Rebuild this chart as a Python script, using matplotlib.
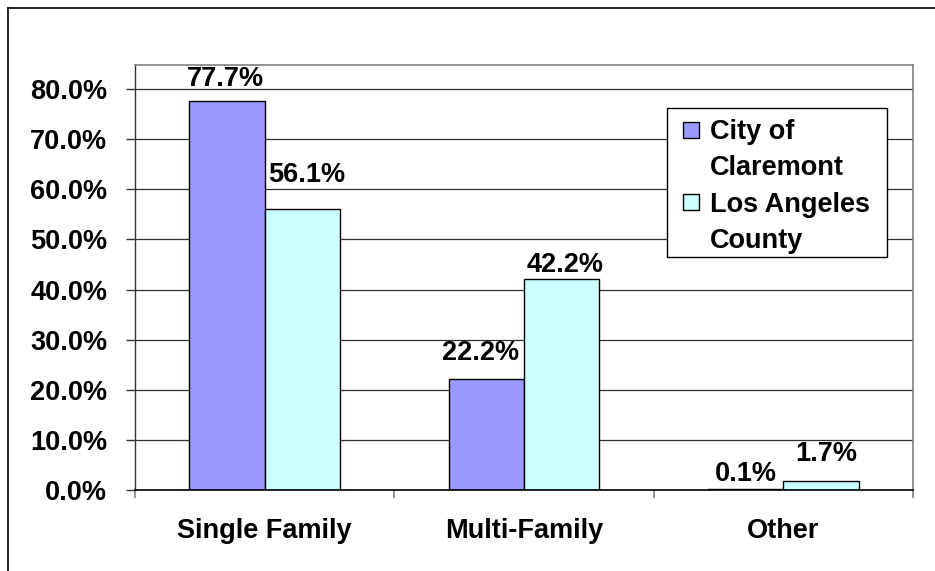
import matplotlib
matplotlib.use("Agg")
import matplotlib.pyplot as plt
from matplotlib.patches import Rectangle
from matplotlib.lines import Line2D
import numpy as np

plt.rcParams['font.family'] = ['Liberation Sans', 'DejaVu Sans']
plt.rcParams['font.weight'] = 'bold'

categories = ["Single Family", "Multi-Family", "Other"]
series_names = ["City of\nClaremont", "Los Angeles\nCounty"]
claremont = [77.7, 22.2, 0.1]
la_county = [56.1, 42.2, 1.7]
y_ticks = [0, 10, 20, 30, 40, 50, 60, 70, 80]

colors = ["#9999FF", "#CCFFFF"]
FS = 19.5

# label nudges in pixels (dx, dy above bar top)
label_offsets = [
    [(-1.5, 15), (4.5, 27)],
    [(-5.5, 19), (4, 7)],
    [(0, 8), (5, 20)],
]

fig = plt.figure(figsize=(9.35, 5.71), dpi=100)
ax = fig.add_axes([135 / 935, 81 / 571, 778 / 935, 425 / 571])

x = np.arange(len(categories))
width = 0.29
series = [claremont, la_county]
for s, vals in enumerate(series):
    pos = x + (s - 0.5) * width
    ax.bar(pos, vals, width=width, color=colors[s], edgecolor="black",
           linewidth=1.0, zorder=3)
    for i, v in enumerate(vals):
        dx, dy = label_offsets[i][s]
        ax.annotate(f"{v:.1f}%", xy=(pos[i], v), xytext=(dx, dy),
                    textcoords="offset pixels", ha="center", va="baseline",
                    fontsize=FS, fontweight="bold", zorder=4)

ax.set_xlim(-0.5, 2.5)
ax.set_ylim(0, 84.8)

ax.set_yticks(y_ticks)
ax.set_yticklabels([f"{t:.1f}%" for t in y_ticks])
ax.tick_params(axis="y", direction="out", length=6.5, width=1, color="#333333",
               pad=13.5, labelsize=FS)

ax.set_xticks(x)
ax.set_xticklabels(categories)
ax.set_xticks([-0.5, 0.5, 1.5, 2.5], minor=True)
ax.tick_params(axis="x", which="major", length=0, pad=20, labelsize=FS)
ax.tick_params(axis="x", which="minor", direction="out", length=6,
               width=1.2, color="#808080")

ax.grid(axis="y", color="#303030", linewidth=0.9, zorder=1)
ax.set_axisbelow(True)

for side in ["top", "right"]:
    ax.spines[side].set_color("#808080")
    ax.spines[side].set_linewidth(1.2)
ax.spines["left"].set_color("#333333")
ax.spines["bottom"].set_color("black")
ax.spines["left"].set_linewidth(1.0)
ax.spines["bottom"].set_linewidth(1.2)
ax.spines["bottom"].set_zorder(5)

# legend box drawn by hand so handles sit on the first text line
ax.add_patch(Rectangle((0.684, 0.548), 0.2826, 0.3508, transform=ax.transAxes,
                       facecolor="white", edgecolor="black", linewidth=1.0,
                       zorder=6, clip_on=False))
handle_y = [0.828, 0.659]
text_y = [0.826, 0.654]
for s, name in enumerate(series_names):
    ax.add_patch(Rectangle((0.7044, handle_y[s]), 0.0205, 0.038,
                           transform=ax.transAxes, facecolor=colors[s],
                           edgecolor="black", linewidth=1.0, zorder=7,
                           clip_on=False))
    first, second = name.split("\n")
    ax.text(0.739, text_y[s], first, transform=ax.transAxes, fontsize=FS,
            fontweight="bold", va="baseline", ha="left", zorder=7)
    ax.text(0.739, text_y[s] - 0.085, second, transform=ax.transAxes,
            fontsize=FS, fontweight="bold", va="baseline", ha="left", zorder=7)

# outer chart frame
fig.add_artist(Line2D([8 / 935, 1.0], [1 - 7.5 / 571, 1 - 7.5 / 571],
                      color="black", linewidth=1.2))
fig.add_artist(Line2D([8 / 935, 8 / 935], [0.0, 1 - 7.5 / 571],
                      color="black", linewidth=1.2))

fig.savefig("out.png", dpi=100)
